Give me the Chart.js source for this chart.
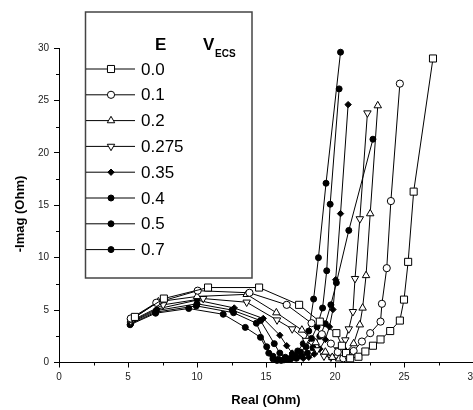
<!DOCTYPE html>
<html>
<head>
<meta charset="utf-8">
<script src="https://cdn.jsdelivr.net/npm/chart.js"></script>
<style>
  body { margin: 0; background: #fff; }
  canvas { display: block; }
</style>
</head>
<body>
<canvas id="canvas" width="473" height="410"></canvas>
<script>
// potentials (V vs ECS), one series each
const potentials = ["0.0", "0.1", "0.2", "0.275", "0.35", "0.4", "0.5", "0.7"];

// Real / -Imag (Ohm)
const re00 = [5.5, 7.6, 10.8, 14.5, 17.4, 18.9, 20.1, 20.5, 20.8, 21.1, 21.7, 22.2, 22.75, 23.3, 24.0, 24.7, 25.0, 25.3, 25.7, 27.1];
const im00 = [4.35, 6.1, 7.15, 7.15, 5.5, 3.9, 2.8, 1.6, 0.9, 0.4, 0.55, 1.05, 1.6, 2.2, 3.0, 4.0, 6.0, 9.6, 16.3, 29.0];

const re01 = [5.2, 7.05, 10.05, 13.8, 16.5, 18.3, 19.05, 19.7, 20.2, 20.6, 21.0, 21.35, 21.95, 22.55, 23.3, 23.4, 23.75, 24.05, 24.7];
const im01 = [4.2, 5.7, 6.85, 6.65, 5.5, 3.75, 2.7, 1.8, 1.0, 0.4, 0.5, 1.1, 2.0, 2.8, 3.9, 5.6, 9.0, 15.4, 26.6];

const re02 = [5.2, 7.2, 10.0, 13.6, 15.75, 17.6, 18.6, 19.3, 19.8, 20.3, 20.8, 21.35, 21.8, 22.0, 22.25, 22.55, 23.1];
const im02 = [4.05, 5.8, 6.3, 6.5, 4.75, 3.1, 1.9, 1.0, 0.5, 0.35, 1.0, 1.8, 3.6, 5.2, 8.3, 14.2, 24.5];

const re0275 = [5.2, 7.55, 10.45, 13.6, 15.8, 16.9, 17.9, 18.7, 19.2, 19.7, 20.25, 20.75, 21.0, 21.3, 21.45, 21.8, 22.35];
const im0275 = [3.95, 5.5, 6.1, 5.75, 4.05, 3.2, 2.1, 1.2, 0.6, 0.5, 1.2, 2.15, 3.2, 4.85, 8.0, 13.7, 23.8];

const re035 = [5.25, 7.1, 10.0, 12.7, 14.8, 16.0, 16.5, 16.9, 17.3, 17.7, 18.1, 18.5, 18.9, 19.3, 19.6, 19.85, 20.05, 20.4, 20.95];
const im035 = [3.9, 5.1, 5.95, 5.2, 4.2, 2.6, 1.6, 0.9, 0.5, 0.4, 0.5, 0.8, 1.3, 2.2, 3.4, 5.05, 7.9, 14.2, 24.6];

const re04 = [5.2, 7.05, 10.0, 12.55, 14.6, 15.6, 16.0, 16.4, 16.8, 17.2, 17.6, 18.0, 18.4, 18.9, 19.3, 19.7, 20.1, 21.0, 22.75];
const im04 = [3.8, 4.95, 5.6, 5.0, 4.0, 1.8, 0.9, 0.5, 0.35, 0.4, 0.6, 0.9, 1.4, 2.5, 3.7, 5.5, 7.6, 12.6, 21.3];

const re05 = [5.2, 7.0, 9.95, 12.65, 14.3, 15.05, 15.5, 15.9, 16.3, 16.7, 17.1, 17.5, 17.9, 18.3, 18.7, 19.1, 19.4, 19.65, 20.3];
const im05 = [3.7, 4.8, 5.4, 4.75, 3.75, 1.5, 0.6, 0.3, 0.25, 0.35, 0.6, 1.0, 1.5, 2.3, 3.4, 5.2, 8.75, 15.1, 26.1];

const re07 = [5.15, 7.0, 9.4, 11.9, 13.5, 14.6, 15.2, 15.5, 15.8, 16.1, 16.5, 16.9, 17.3, 17.7, 18.1, 18.45, 18.8, 19.35, 20.4];
const im07 = [3.6, 4.7, 5.15, 4.6, 3.35, 2.4, 0.9, 0.35, 0.2, 0.2, 0.35, 0.65, 1.1, 1.8, 3.0, 6.05, 10.0, 17.1, 29.6];

const xTicks = [0, 5, 10, 15, 20, 25, 30];
const yTicks = [0, 5, 10, 15, 20, 25, 30];
const xMinor = [2.5, 7.5, 12.5, 17.5, 22.5, 27.5];
const yMinor = [2.5, 7.5, 12.5, 17.5, 22.5, 27.5];

const allRe = [re00, re01, re02, re0275, re035, re04, re05, re07];
const allIm = [im00, im01, im02, im0275, im035, im04, im05, im07];

const FONT = '"Liberation Sans", Arial, sans-serif';

// marker look per series
const markers = [
    {style: 'rect', r: 5, rot: 0, fill: '#fff'},
    {style: 'circle', r: 3.6, rot: 0, fill: '#fff'},
    {style: 'triangle', r: 4.3, rot: 0, fill: '#fff'},
    {style: 'triangle', r: 4.3, rot: 180, fill: '#fff'},
    {style: 'rectRot', r: 3.2, rot: 0, fill: '#000'},
    {style: 'circle', r: 3, rot: 0, fill: '#000'},
    {style: 'circle', r: 3, rot: 0, fill: '#000'},
    {style: 'circle', r: 3, rot: 0, fill: '#000'}
];

const datasets = potentials.map(function (p, i) {
    const m = markers[i];
    return {
        label: p,
        data: allRe[i].map(function (x, j) { return {x: x, y: allIm[i][j]}; }),
        showLine: true,
        borderColor: '#000',
        borderWidth: 1,
        tension: 0,
        pointStyle: m.style,
        pointRotation: m.rot,
        pointRadius: m.r,
        pointHoverRadius: m.r,
        pointBackgroundColor: m.fill,
        pointBorderColor: '#000',
        pointBorderWidth: 1,
        clip: false
    };
});

// minor ticks, y title and boxed legend
const extras = {
    id: 'extras',
    afterDraw(chart) {
        const ctx = chart.ctx;
        const xs = chart.scales.x, ys = chart.scales.y;
        const area = chart.chartArea;
        ctx.save();
        ctx.strokeStyle = '#000';
        ctx.lineWidth = 1;
        ctx.beginPath();
        xMinor.forEach(function (v) {
            const px = Math.round(xs.getPixelForValue(v)) + 0.5;
            ctx.moveTo(px, area.bottom);
            ctx.lineTo(px, area.bottom + 3);
        });
        yMinor.forEach(function (v) {
            const py = Math.round(ys.getPixelForValue(v)) + 0.5;
            ctx.moveTo(area.left - 3, py);
            ctx.lineTo(area.left, py);
        });
        ctx.stroke();

        // y axis title, a bit below the axis middle like the original
        ctx.save();
        ctx.translate(20, 214);
        ctx.rotate(-Math.PI / 2);
        ctx.fillStyle = '#000';
        ctx.font = 'bold 13px ' + FONT;
        ctx.textAlign = 'center';
        ctx.textBaseline = 'middle';
        ctx.fillText('-Imag (Ohm)', 0, 0);
        ctx.restore();

        // legend box
        ctx.strokeStyle = '#444';
        ctx.lineWidth = 1.5;
        ctx.strokeRect(85.5, 12, 166.5, 266);

        ctx.fillStyle = '#000';
        ctx.textBaseline = 'middle';
        ctx.textAlign = 'left';
        ctx.font = 'bold 17px ' + FONT;
        ctx.fillText('E', 155, 45);
        ctx.fillText('V', 203, 45);
        ctx.font = 'bold 10px ' + FONT;
        ctx.fillText('ECS', 215, 54);

        chart.data.datasets.forEach(function (ds, i) {
            const y = 69 + i * 25.8;
            ctx.strokeStyle = '#000';
            ctx.lineWidth = 1;
            ctx.beginPath();
            ctx.moveTo(86, y);
            ctx.lineTo(135, y);
            ctx.stroke();
            ctx.fillStyle = ds.pointBackgroundColor;
            Chart.helpers.drawPoint(ctx, {
                pointStyle: ds.pointStyle,
                rotation: ds.pointRotation,
                radius: ds.pointRadius,
                borderWidth: 1
            }, 111, y);
            ctx.fillStyle = '#000';
            ctx.font = '17px ' + FONT;
            ctx.fillText(ds.label, 141, y + 1);
        });
        ctx.restore();
    }
};

const ctx = document.getElementById('canvas').getContext('2d');
const myChart = new Chart(ctx, {
    type: 'scatter',
    data: {datasets: datasets},
    plugins: [extras],
    options: {
        responsive: false,
        animation: false,
        events: [],
        layout: {autoPadding: false, padding: {top: 48, left: 0, right: 0, bottom: 0}},
        plugins: {
            legend: {display: false},
            tooltip: {enabled: false}
        },
        scales: {
            x: {
                type: 'linear',
                position: 'bottom',
                min: 0,
                max: 30,
                afterBuildTicks: function (s) { s.ticks = xTicks.map(function (v) { return {value: v}; }); },
                afterFit: function (s) { s.height = 47.5; s.paddingLeft = 0; s.paddingRight = 0; },
                border: {color: '#000', width: 1},
                grid: {drawOnChartArea: false, tickLength: 5, tickColor: '#000'},
                ticks: {font: {size: 10, family: FONT}, color: '#222', padding: 4, maxRotation: 0, autoSkip: false},
                title: {display: true, text: 'Real (Ohm)', color: '#000',
                    font: {size: 13, weight: 'bold', family: FONT}, padding: {top: 0, bottom: 2}}
            },
            y: {
                type: 'linear',
                position: 'left',
                min: 0,
                max: 30,
                afterBuildTicks: function (s) { s.ticks = yTicks.map(function (v) { return {value: v}; }); },
                afterFit: function (s) { s.width = 59; s.paddingTop = 0; s.paddingBottom = 0; },
                border: {color: '#000', width: 1},
                grid: {drawOnChartArea: false, tickLength: 5, tickColor: '#000'},
                ticks: {font: {size: 10, family: FONT}, color: '#222', padding: 5, autoSkip: false}
            }
        }
    }
});
</script>
</body>
</html>
